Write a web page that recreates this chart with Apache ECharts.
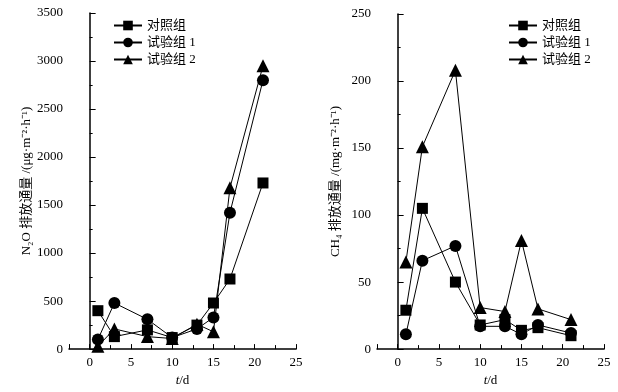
<!DOCTYPE html>
<html>
<head>
<meta charset="utf-8">
<script src="https://cdn.jsdelivr.net/npm/echarts@6/dist/echarts.min.js"></script>
<style>
  html, body { margin: 0; padding: 0; background: #fff; }
  #main { width: 618px; height: 392px; }
</style>
</head>
<body>
<div id="main"></div>
<script>
// sampling days
var days = [1, 3, 7, 10, 13, 15, 17, 21];
var groupNames = ["对照组", "试验组 1", "试验组 2"];

// N2O flux, ug m-2 h-1
var n2oControl = [400, 130, 200, 120, 250, 480, 730, 1730];
var n2oTest1 = [100, 480, 310, 120, 210, 330, 1420, 2800];
var n2oTest2 = [30, 210, 130, 110, 260, 180, 1680, 2950];

// CH4 flux, mg m-2 h-1
var ch4Control = [29, 105, 50, 18, 22, 14, 16, 10];
var ch4Test1 = [11, 66, 77, 17, 17, 11, 18, 12];
var ch4Test2 = [65, 151, 208, 31, 28, 81, 30, 22];

var xTicks = [0, 5, 10, 15, 20, 25];

var FONT = "'Liberation Serif', 'Noto Sans CJK SC', serif";
var symbols = ["rect", "circle", "triangle"];
var symbolSizes = [11, 12, 13];

function pairs(vals) {
  return days.map(function (d, i) { return [d, vals[i]]; });
}

function makeSeries(list, xIdx, yIdx) {
  return list.map(function (vals, i) {
    return {
      name: groupNames[i],
      type: "line",
      xAxisIndex: xIdx,
      yAxisIndex: yIdx,
      data: pairs(vals),
      symbol: symbols[i],
      symbolSize: symbolSizes[i],
      showAllSymbol: true,
      color: "#000",
      itemStyle: { color: "#000" },
      lineStyle: { color: "#000", width: 1 },
      emphasis: { disabled: true },
      z: 3 + i,
    };
  });
}

function xAxes(gridIdx) {
  return [
    {
      type: "value",
      gridIndex: gridIdx,
      min: -2.5,
      max: 25,
      splitNumber: 5,
      axisLine: { lineStyle: { color: "#000", width: 1.5 } },
      axisTick: { inside: true, length: 5, lineStyle: { color: "#000" } },
      axisLabel: {
        color: "#000",
        fontFamily: FONT,
        fontSize: 13,
        margin: 7,
        formatter: function (v) {
          return xTicks.indexOf(v) >= 0 ? String(v) : "";
        },
      },
      splitLine: { show: false },
      name: "{i|t}/d",
      nameLocation: "middle",
      nameGap: 21,
      nameTextStyle: {
        color: "#000",
        fontFamily: FONT,
        fontSize: 13,
        rich: { i: { fontStyle: "italic", fontFamily: FONT, fontSize: 13, color: "#000" } },
      },
    },
    {
      // minor ticks every 2.5
      type: "value",
      gridIndex: gridIdx,
      position: "bottom",
      min: -2.5,
      max: 25,
      interval: 2.5,
      axisLine: { show: false },
      axisTick: { inside: true, length: 4, lineStyle: { color: "#000" } },
      axisLabel: { show: false },
      splitLine: { show: false },
    },
  ];
}

function yAxis(gridIdx, max, interval, name) {
  return {
    type: "value",
    gridIndex: gridIdx,
    min: 0,
    max: max,
    interval: interval,
    axisLine: { show: true, lineStyle: { color: "#000", width: 1.5 } },
    axisTick: { show: true, inside: true, length: 6, lineStyle: { color: "#000" } },
    minorTick: { show: true, splitNumber: 2, length: 3, lineStyle: { color: "#000" } },
    axisLabel: {
      color: "#000",
      fontFamily: FONT,
      fontSize: 13,
      margin: 6,
      formatter: function (v) { return String(v); },
    },
    splitLine: { show: false },
    name: name,
    nameLocation: "middle",
    nameGap: 35,
    nameRotate: 90,
    nameTextStyle: { color: "#000", fontFamily: FONT, fontSize: 13 },
  };
}

function legend(left) {
  return {
    left: left,
    top: 14,
    orient: "vertical",
    itemWidth: 28,
    itemHeight: 12,
    itemGap: 4,
    data: groupNames,
    textStyle: { color: "#000", fontFamily: FONT, fontSize: 13 },
    selectedMode: false,
  };
}

var chart = echarts.init(document.getElementById("main"), null, { renderer: "canvas" });

var xa = xAxes(0).concat(xAxes(1));
var option = {
  animation: false,
  backgroundColor: "#fff",
  grid: [
    { left: 69, top: 13, width: 227, height: 340 },
    { left: 377, top: 14, width: 227, height: 339 },
  ],
  legend: [legend(108), legend(503)],
  xAxis: xa,
  yAxis: [
    yAxis(0, 3500, 500, "N₂O 排放通量 /(μg·m⁻²·h⁻¹)"),
    yAxis(1, 250, 50, "CH₄ 排放通量 /(mg·m⁻²·h⁻¹)"),
  ],
  series: makeSeries([n2oControl, n2oTest1, n2oTest2], 0, 0)
    .concat(makeSeries([ch4Control, ch4Test1, ch4Test2], 2, 1)),
};

chart.setOption(option);
</script>
</body>
</html>
